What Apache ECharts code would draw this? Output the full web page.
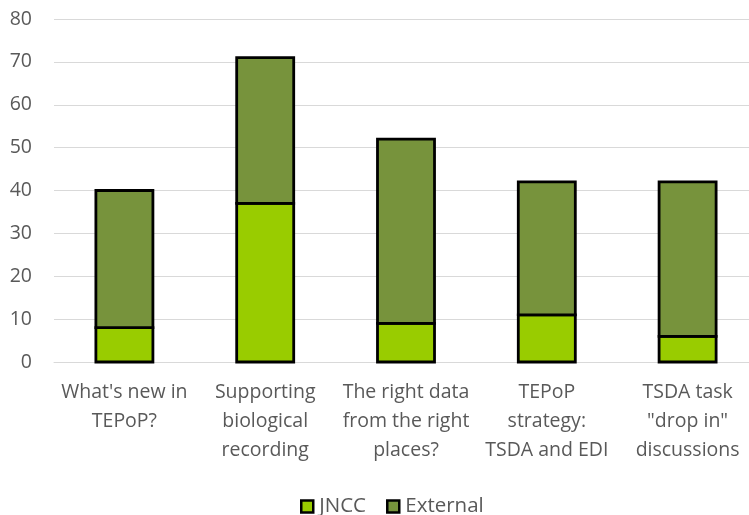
<!DOCTYPE html>
<html>
<head>
<meta charset="utf-8">
<script src="https://cdn.jsdelivr.net/npm/echarts@6/dist/echarts.min.js"></script>
<style>html,body{margin:0;padding:0;background:#fff}#c{width:749px;height:515px}</style>
</head>
<body>
<div id="c"></div>
<script>
const categories = ["What's new in\nTEPoP?", "Supporting\nbiological\nrecording", "The right data\nfrom the right\nplaces?", "TEPoP\nstrategy:\nTSDA and EDI", "TSDA task\n\"drop in\"\ndiscussions"];
const jncc = [8, 37, 9, 11, 6];
const external = [32, 34, 43, 31, 36];
const seriesNames = ["JNCC", "External"];
const colors = ['#99cc00', '#77933c'];

// stacked segments [categoryIndex, low, high]
const jnccSeg = jncc.map((v, i) => [i, 0, v]);
const extSeg = external.map((v, i) => [i, jncc[i], jncc[i] + v]);

const FONT = "Open Sans";
const TXT = "#595959";

function makeRender(fill) {
  return function (params, api) {
    const i = api.value(0);
    const p0 = api.coord([i, api.value(1)]);
    const p1 = api.coord([i, api.value(2)]);
    const w = api.size([1, 0])[0] * 0.405;
    return {
      type: 'rect',
      shape: {x: p0[0] - w / 2, y: p1[1], width: w, height: p0[1] - p1[1]},
      style: {fill: fill, stroke: '#000', lineWidth: 2.8}
    };
  };
}

const chart = echarts.init(document.getElementById('c'), null, {renderer: 'canvas'});
chart.setOption({
  animation: false,
  textStyle: {fontFamily: FONT},
  grid: {left: 54, width: 704, top: 19, bottom: 153, containLabel: false, outerBoundsMode: 'none'},
  legend: {
    data: seriesNames,
    top: 491,
    left: 295,
    itemWidth: 12, itemHeight: 12, itemGap: 20,
    icon: 'rect',
    itemStyle: {borderColor: '#000', borderWidth: 2.5},
    textStyle: {fontFamily: FONT, fontSize: 20.5, color: TXT, padding: [0, 0, 0, 1]}
  },
  xAxis: {
    type: 'category',
    data: categories,
    axisTick: {show: false},
    axisLine: {lineStyle: {color: '#d9d9d9', width: 1}},
    axisLabel: {fontFamily: FONT, fontSize: 19.5, color: TXT, lineHeight: 29, margin: 16, interval: 0}
  },
  yAxis: {
    type: 'value',
    min: 0, max: 80, interval: 10,
    axisLine: {show: false},
    axisTick: {show: false},
    splitLine: {lineStyle: {color: '#d9d9d9', width: 1}},
    axisLabel: {fontFamily: FONT, fontSize: 19.5, color: TXT, margin: 22}
  },
  series: [
    {name: seriesNames[0], type: 'custom', data: jnccSeg, encode: {x: 0, y: [1, 2]},
     itemStyle: {color: colors[0]}, renderItem: makeRender(colors[0])},
    {name: seriesNames[1], type: 'custom', data: extSeg, encode: {x: 0, y: [1, 2]},
     itemStyle: {color: colors[1]}, renderItem: makeRender(colors[1])}
  ]
});
</script>
</body>
</html>
